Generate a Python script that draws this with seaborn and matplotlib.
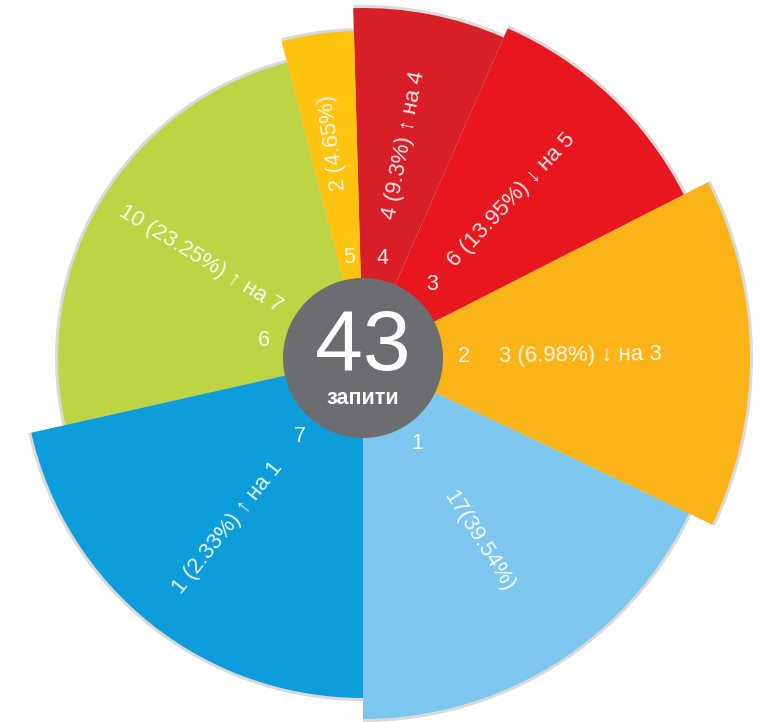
import numpy as np
import matplotlib
matplotlib.use("Agg")
import matplotlib.pyplot as plt
import seaborn as sns

# ---------------- data ----------------
categories = ["1", "2", "3", "4", "5", "6", "7"]
counts = [17, 3, 6, 4, 2, 10, 1]
value_labels = [
    "17(39.54%)",
    "3 (6.98%) ↓ на 3",
    "6 (13.95%) ↓ на 5",
    "4 (9.3%) ↑ на 4",
    "2 (4.65%)",
    "10 (23.25%) ↑ на 7",
    "1 (2.33%) ↑ на 1",
]
# angular span (degrees) and outer radius of each sector as drawn
sector_span = [64.5, 52.5, 39.3, 25.3, 12.8, 88.3, 77.3]
sector_radius = [361, 387, 360, 350, 327, 305, 340]
center_label = "запити"

colors = ["#7DC7EE", "#FBB417", "#E8171F", "#D81E27", "#FEC40F", "#BDD545", "#0C9DDA"]
center_color = "#6C6D70"

# ---------------- style ----------------
sns.set_theme(style="white")
plt.rcParams["font.family"] = ["Liberation Sans", "DejaVu Sans"]

W, H = 760, 722
fig = plt.figure(figsize=(W / 100, H / 100), dpi=100)
fig.patch.set_facecolor("white")

cx, cy = 363, 722 - 358   # centre in pixels from bottom-left
R = 400
ax = fig.add_axes([(cx - R) / W, (cy - R) / H, 2 * R / W, 2 * R / H], projection="polar")
ax.set_ylim(0, R)
ax.set_axis_off()

spans = np.array(sector_span)
radii = np.array(sector_radius, dtype=float)
starts = -90 + np.concatenate([[0], np.cumsum(spans)[:-1]])
mids_deg = starts + spans / 2
theta = np.deg2rad(mids_deg)
widths = np.deg2rad(spans)

# soft rim shadow
ax.bar(theta, radii + 3, width=widths, bottom=0, color="#b5b5b5", alpha=0.5,
       linewidth=0, zorder=1)
ax.bar(theta, radii, width=widths, bottom=0, color=colors, linewidth=0, zorder=2)

# centre disc
t = np.linspace(0, 2 * np.pi, 300)
ax.fill(t, np.full_like(t, 80), color=center_color, zorder=5, linewidth=0)
ax.text(np.pi / 2, 10, str(sum(counts)), ha="center", va="center", color="white",
        fontsize=62, zorder=6)
ax.text(-np.pi / 2, 41, center_label, ha="center", va="center", color="white",
        fontsize=15.5, fontweight="bold", zorder=6)

# labels
num_angle_override = {5: 170.0}
text_r_override = {5: 190.0}
for i, (cat, lab, md) in enumerate(zip(categories, value_labels, mids_deg)):
    a = num_angle_override.get(i, md)
    ax.text(np.deg2rad(a), 101, cat, ha="center", va="center", color="white",
            fontsize=15.5, zorder=6, alpha=0.92)
    rot = md
    if md > 120:
        rot = md - 180
    r_txt = text_r_override.get(i, 217.0)
    ax.text(np.deg2rad(md), r_txt, lab, ha="center", va="center", rotation=rot,
            rotation_mode="anchor", color="white", fontsize=16, zorder=6, alpha=0.9)

fig.savefig("out.png", dpi=100, facecolor="white")
